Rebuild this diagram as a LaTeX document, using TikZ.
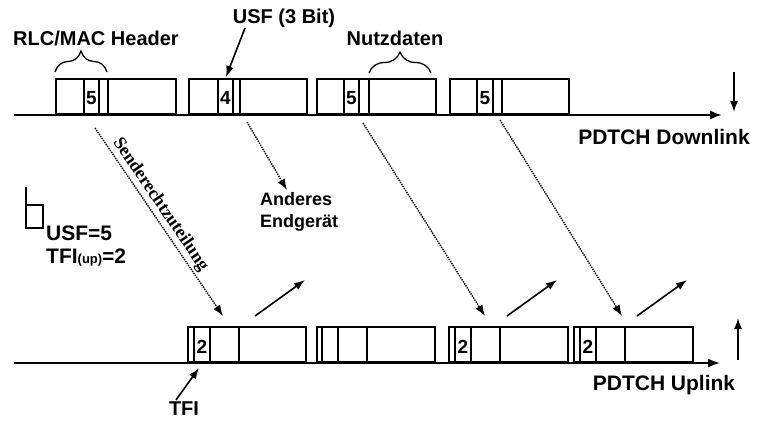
\documentclass[tikz,border=0pt]{standalone}
\usepackage{fontspec}
\setmainfont{Liberation Sans}
\newfontfamily\serifrm{Liberation Serif}
\usetikzlibrary{arrows.meta,decorations.pathreplacing}

\begin{document}
\begin{tikzpicture}[
  x=1pt,y=-1pt,
  lbl/.style={font=\bfseries\fontsize{20}{22}\selectfont,inner sep=0pt},
  num/.style={font=\bfseries\fontsize{19}{20}\selectfont,inner sep=0pt},
  blk/.style={draw,line width=1.6pt,minimum height=35pt,inner sep=0pt,anchor=south west},
  cell/.style={line width=1.4pt},
  axis/.style={-{Latex[length=12pt,width=9pt]},line width=1.8pt},
  dots/.style={-{Latex[length=11pt,width=8pt]},densely dotted,line width=1.4pt},
  arr/.style={-{Latex[length=11pt,width=8pt]},line width=1.6pt},
  brc/.style={decorate,decoration={brace,amplitude=21pt},line width=1.3pt}
]
\useasboundingbox (0,0) rectangle (759,420);

% Downlink
\draw[axis] (14,115) -- (722,115);
\foreach \name/\l/\a/\b/\c/\r/\n in {d1/55/84/99/108/175/5,d2/188/218/233/240/306/4,
    d3/316/344/359/369/435/5,d4/449/477/493/502/568/5}{
  \node[blk,minimum width={(\r-\l)*1pt}] (\name) at (\l,115) {};
  \draw[cell] (\a,80) -- (\a,115) (\b,80) -- (\b,115) (\c,80) -- (\c,115);
  \node[num] at ({(\a+\b)/2},98) {\n};
}
\draw[arr] (734,72) -- (734,112);
\node[lbl,font=\bfseries\fontsize{21}{22}\selectfont] (dl) at (664,137) {PDTCH Downlink};

% Uplink
\draw[axis] (14,363) -- (720,363);
\foreach \name/\l/\a/\b/\c/\r/\n in {u1/187/194/210/239/305/2,u2/316/322/338/367/434/,
    u3/448/455/471/500/567/2,u4/573/580/596/625/692/2}{
  \node[blk,minimum width={(\r-\l)*1pt}] (\name) at (\l,363) {};
  \draw[cell] (\a,328) -- (\a,363) (\b,328) -- (\b,363) (\c,328) -- (\c,363);
  \node[num] at ({(\a+\b)/2},347) {\n};
}
\draw[arr] (738,360) -- (738,318);
\node[lbl,font=\bfseries\fontsize{21}{22}\selectfont] (ul) at (664,385) {PDTCH Uplink};

% Klammern und Beschriftung oben
\draw[brc] (55,72) -- (107,72);
\node[lbl] (hdr) at (96,38) {RLC/MAC Header};
\draw[brc] (369,73) -- (431,73);
\node[lbl] (nutz) at (395,38) {Nutzdaten};
\node[lbl] (usf) at (284,18) {USF (3 Bit)};
\draw[arr] (245,28) -- (226,77);

% Senderechte
\coordinate (s1) at (95,128);  \coordinate (e1) at (223,316);
\coordinate (s2) at (247,122); \coordinate (e2) at (287,190);
\coordinate (s3) at (363,123); \coordinate (e3) at (485,316);
\coordinate (s4) at (500,120); \coordinate (e4) at (622,316);
\draw[dots] (s1) -- node[pos=0.44,sloped,above=2pt,font=\serifrm\bfseries\fontsize{18}{20}\selectfont,inner sep=0pt] {Senderechtzuteilung} (e1);
\draw[dots] (s2) -- (e2);
\draw[dots] (s3) -- (e3);
\draw[dots] (s4) -- (e4);
\node[lbl,font=\bfseries\fontsize{18}{22}\selectfont,align=left,anchor=north west] (other) at (260,192) {Anderes\\Endger\"at};

% Antworten im Uplink
\foreach \x in {255,507,637}
  \draw[arr] (\x,316) -- ++(50,-36);

% Legende links
\draw[line width=1.4pt] (26,187) -- (26,228) -- (43,228) -- (43,205) -- (26,205);
\node[lbl,font=\bfseries\fontsize{21}{22}\selectfont,anchor=west] (usf5) at (46,233) {USF=5};
\node[lbl,font=\bfseries\fontsize{21}{22}\selectfont,anchor=west] (tfiup) at (46,258) {TFI{\fontsize{13}{14}\selectfont(up)}=2};

% TFI
\node[lbl] (tfi) at (184,409) {TFI};
\draw[arr] (tfi.north) ++(-8,-2) -- (199,368);
\end{tikzpicture}
\end{document}
